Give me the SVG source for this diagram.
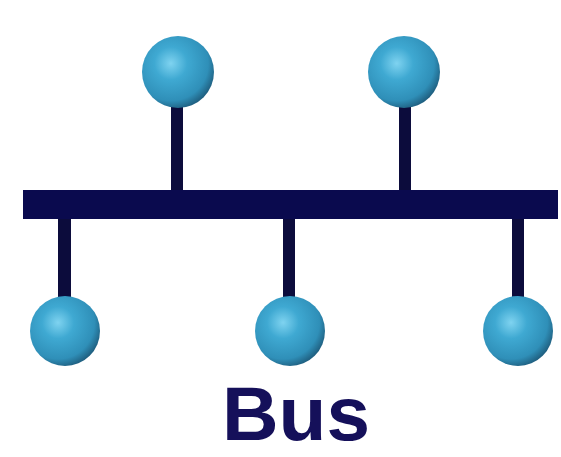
<svg xmlns="http://www.w3.org/2000/svg" width="561" height="457" viewBox="0 0 561 457">
<defs>
<radialGradient id="ball" cx="0.4" cy="0.38" r="0.65">
<stop offset="0" stop-color="#7fd3f0"/>
<stop offset="0.35" stop-color="#3fa9d2"/>
<stop offset="0.8" stop-color="#2f8fb8"/>
<stop offset="1" stop-color="#1f5f80"/>
</radialGradient>
<style>
.stem{fill:#0c0c3c}
.bus{fill:#0a0a4e}
.node circle{fill:url(#ball)}
.lbl{font-family:"Liberation Sans",Arial,sans-serif;font-weight:bold;font-size:76px;fill:#15105a}
</style>
</defs>
<rect width="561" height="457" fill="#ffffff"/>
<g id="connectors">
<rect class="stem" x="171" y="100" width="12" height="95"/>
<rect class="stem" x="399" y="100" width="12" height="95"/>
<rect class="stem" x="58" y="215" width="13" height="85"/>
<rect class="stem" x="283" y="215" width="12" height="85"/>
<rect class="stem" x="512" y="215" width="12" height="85"/>
</g>
<g id="bus"><rect class="bus" x="23" y="190" width="535" height="29"/></g>
<g id="node-top1" class="node"><circle cx="178" cy="72" r="36"/></g>
<g id="node-top2" class="node"><circle cx="404" cy="72" r="36"/></g>
<g id="node-bot1" class="node"><circle cx="65" cy="331" r="35"/></g>
<g id="node-bot2" class="node"><circle cx="290" cy="331" r="35"/></g>
<g id="node-bot3" class="node"><circle cx="518" cy="331" r="35"/></g>
<text class="lbl" x="296" y="440" text-anchor="middle" textLength="148" lengthAdjust="spacingAndGlyphs">Bus</text>
</svg>
